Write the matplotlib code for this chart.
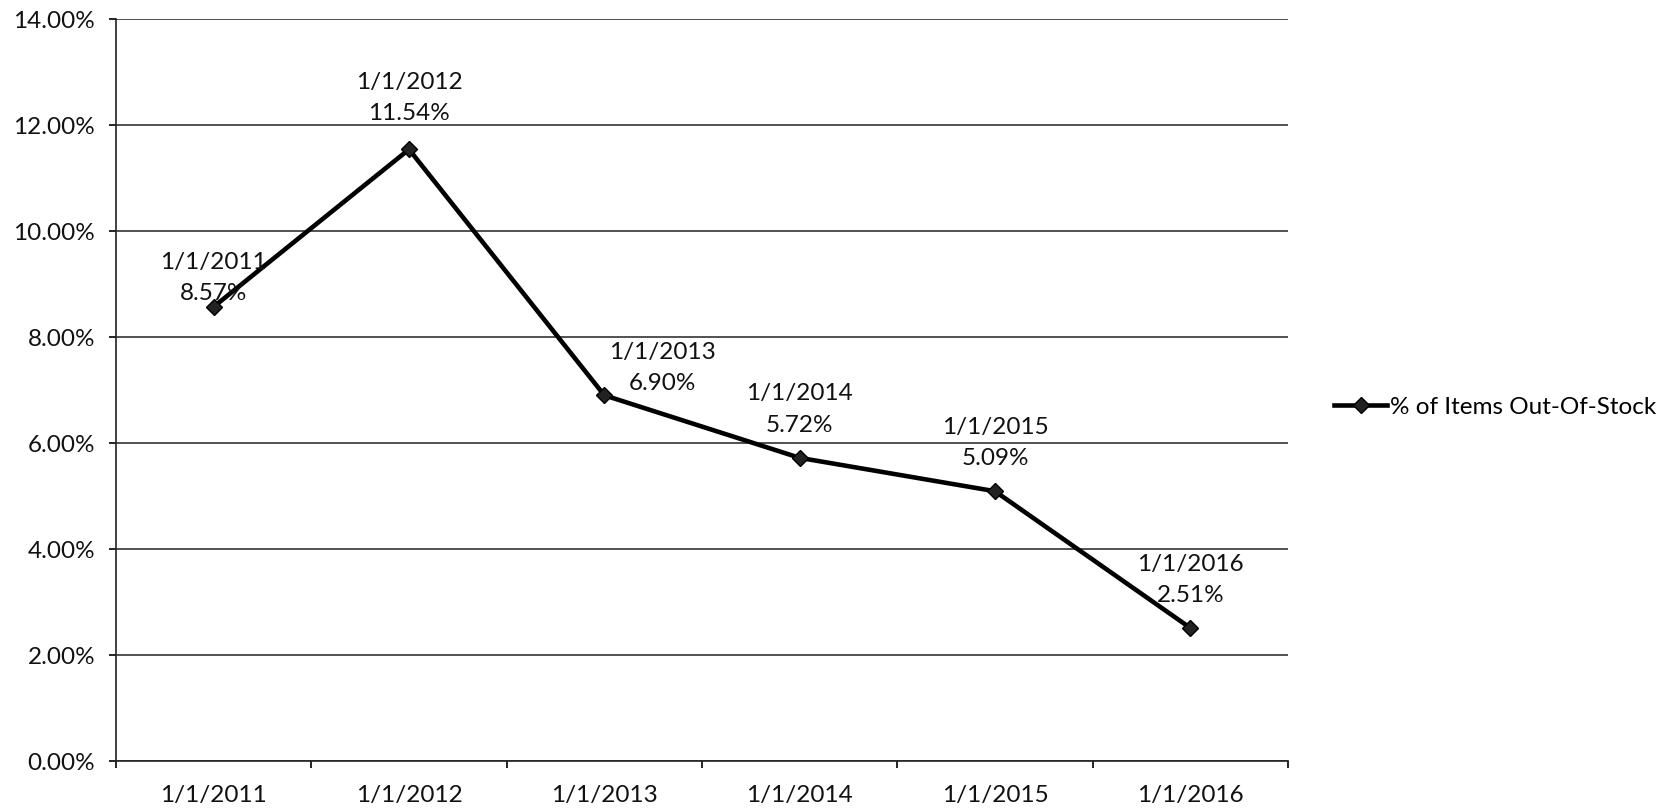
import matplotlib.pyplot as plt
from matplotlib.ticker import FixedLocator, PercentFormatter

plt.rcParams['font.family'] = ['Lato', 'DejaVu Sans']

dates = ['1/1/2011', '1/1/2012', '1/1/2013', '1/1/2014', '1/1/2015', '1/1/2016']
out_of_stock = [8.57, 11.54, 6.90, 5.72, 5.09, 2.51]
series_name = '% of Items Out-Of-Stock'

# label offsets (points) to mimic the placement in the original sheet
label_offsets = [(0, 2), (0, 18), (42, 1), (0, 16), (0, 16), (0, 16)]

FS = 17.5

fig = plt.figure(figsize=(16.66, 8.09), dpi=100)
ax = fig.add_axes([116 / 1666, 48 / 809, 1172 / 1666, 742 / 809])

x = list(range(len(dates)))
line, = ax.plot(x, out_of_stock, color='black', lw=3.3, marker='D', ms=8,
                mfc='#222222', mec='black', label=series_name, zorder=3)

for xi, v, d, off in zip(x, out_of_stock, dates, label_offsets):
    ax.annotate(f'{d}\n{v:.2f}%', (xi, v), xytext=off, textcoords='offset points',
                ha='center', va='bottom', fontsize=FS, linespacing=1.6, color='#111111')

ax.set_xlim(-0.5, len(dates) - 0.5)
ax.set_ylim(0, 14)
ax.set_yticks(range(0, 15, 2))
ax.yaxis.set_major_formatter(PercentFormatter(decimals=2))
ax.set_xticks(x)
ax.set_xticklabels(dates)
ax.xaxis.set_minor_locator(FixedLocator([i - 0.5 for i in range(len(dates) + 1)]))

ax.tick_params(axis='x', which='major', length=0, pad=17, labelsize=FS, labelcolor='#111111')
ax.tick_params(axis='x', which='minor', length=5, width=1.2, direction='out')
ax.tick_params(axis='y', length=5, width=1.2, pad=10, labelsize=FS, labelcolor='#111111')

ax.grid(axis='y', color='#333333', lw=1.2)
ax.set_axisbelow(True)
for side in ['top', 'right']:
    ax.spines[side].set_visible(False)
for side in ['left', 'bottom']:
    ax.spines[side].set_color('#222222')
    ax.spines[side].set_linewidth(1.2)

fig.legend(handles=[line], loc='center left', bbox_to_anchor=(1312 / 1666, 1 - 407 / 809),
           frameon=False, fontsize=FS, handlelength=2.2, handletextpad=0.1)

fig.savefig('out.png', dpi=100)
